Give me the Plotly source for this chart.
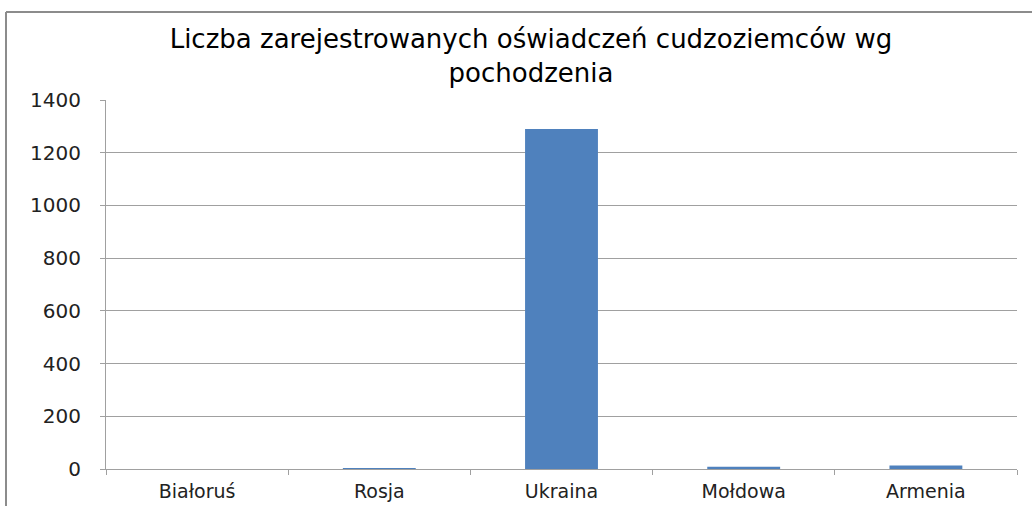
import plotly.graph_objects as go

categories = ["Białoruś", "Rosja", "Ukraina", "Mołdowa", "Armenia"]
values = [0, 3, 1290, 9, 13]
y_ticks = [0, 200, 400, 600, 800, 1000, 1200, 1400]

W, H = 1032, 506
L, R, T, B = 106, 15, 100, 37
pw, ph = W - L - R, H - T - B

def px_x(px):
    return (px - L) / pw

def px_y(py):
    return (H - B - py) / ph

fig = go.Figure(go.Bar(x=categories, y=values, marker_color="#4f81bd",
                       marker_line_width=0, width=0.4))

fig.update_layout(
    width=W, height=H,
    margin=dict(l=L, r=R, t=T, b=B, autoexpand=False),
    paper_bgcolor="white", plot_bgcolor="white",
    showlegend=False,
    title=dict(text="Liczba zarejestrowanych oświadczeń cudzoziemców wg<br>pochodzenia",
               xref="container", x=531 / W, xanchor="center",
               yref="container", y=1 - 48 / H, yanchor="top",
               font=dict(family="DejaVu Sans", size=26, color="#000"),
               automargin=False),
    font=dict(family="DejaVu Sans", size=19, color="#222"),
    bargap=0.6,
)
fig.update_xaxes(showline=True, linecolor="#a0a0a0", linewidth=1, automargin=False,
                 ticks="outside", tickson="boundaries", ticklen=5, tickcolor="#a0a0a0",
                 showgrid=False, ticklabelstandoff=5, tickfont=dict(size=19, color="#222"))
fig.update_yaxes(range=[0, 1400], tickvals=y_ticks, showline=True, linecolor="#a0a0a0",
                 linewidth=1, ticks="outside", ticklen=5, tickcolor="#a0a0a0", automargin=False,
                 showgrid=True, gridcolor="#a0a0a0", gridwidth=1, zeroline=False,
                 ticklabelstandoff=15, tickfont=dict(size=20, color="#222"))

# outer chart border (partially visible)
fig.add_shape(type="line", xref="paper", yref="paper",
              x0=px_x(6), x1=px_x(6), y0=px_y(12), y1=px_y(520),
              line=dict(color="#8c8c8c", width=2))
fig.add_shape(type="line", xref="paper", yref="paper",
              x0=px_x(6), x1=px_x(1040), y0=px_y(12), y1=px_y(12),
              line=dict(color="#8c8c8c", width=2))

fig.write_html("out.html", config={"displayModeBar": False},
               post_script="document.body.style.margin='0';")
